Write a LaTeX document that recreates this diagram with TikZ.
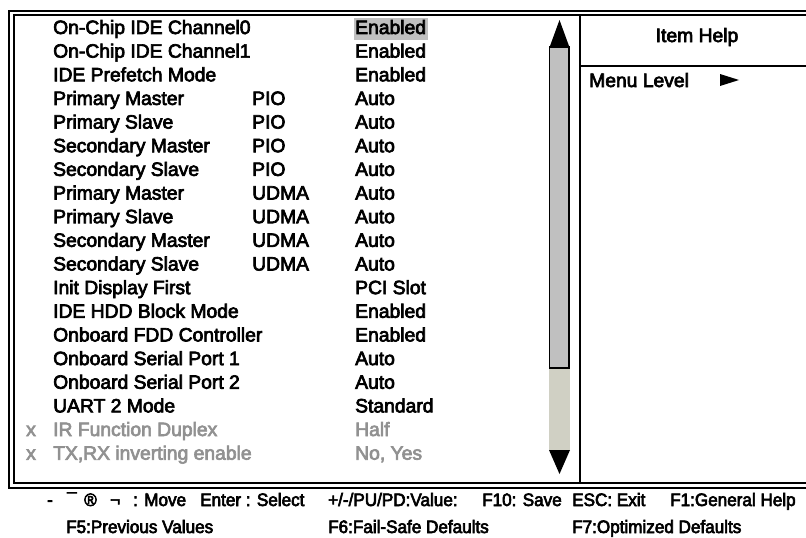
\documentclass[tikz,border=0pt]{standalone}
\usepackage{fontspec}
\setmainfont{Liberation Sans}[BoldFont={Liberation Sans},BoldFeatures={FakeBold=3.5}]
\newfontfamily\keyfont{Liberation Sans}[BoldFont={Liberation Sans},BoldFeatures={FakeBold=3.5,FakeStretch=0.95}]
\usetikzlibrary{positioning}
\definecolor{hilite}{RGB}{192,192,192}
\definecolor{thumbgray}{RGB}{192,192,192}
\definecolor{trackgray}{RGB}{208,208,196}
\definecolor{dimtext}{RGB}{145,145,145}
\tikzstyle{itemtxt}=[anchor=base west, inner sep=0pt, font=\fontsize{19.3}{24}\selectfont\bfseries]
\tikzstyle{greytxt}=[itemtxt, text=dimtext]
\tikzstyle{keytxt}=[anchor=base west, inner sep=0pt, font=\keyfont\fontsize{18}{22}\selectfont\bfseries]
\tikzstyle{frameline}=[line width=2pt]

\begin{document}
\begin{tikzpicture}[x=1pt,y=-1pt]
\useasboundingbox (0,0) rectangle (806,538);
%double frame, open to the right
\draw[frameline] (812,10.5) -- (8.5,10.5) -- (8.5,487.5) -- (812,487.5);
\draw[frameline] (812,14.5) -- (14,14.5) -- (14,483) -- (812,483);
\draw[frameline] (580,14.5) -- (580,483);
\draw[frameline] (580,66) -- (812,66);
%selected value
\fill[hilite] (354,18) rectangle (428,40);
%setup items
\foreach \nm/\md/\val [count=\i from 0] in {On-Chip IDE Channel0//Enabled, On-Chip IDE Channel1//Enabled, IDE Prefetch Mode//Enabled, Primary Master/PIO/Auto, Primary Slave/PIO/Auto, Secondary Master/PIO/Auto, Secondary Slave/PIO/Auto, Primary Master/UDMA/Auto, Primary Slave/UDMA/Auto, Secondary Master/UDMA/Auto, Secondary Slave/UDMA/Auto, Init Display First//PCI Slot, IDE HDD Block Mode//Enabled, Onboard FDD Controller//Enabled, Onboard Serial Port 1//Auto, Onboard Serial Port 2//Auto, UART 2 Mode//Standard}{
	\pgfmathsetmacro\yy{34+23.65*\i}
	\node[itemtxt] (n\i) at (53,\yy) {\nm};
	\node[itemtxt] (m\i) at (252,\yy) {\md};
	\node[itemtxt] (v\i) at (355,\yy) {\val};
}
%items that can not be changed
\node[greytxt] (x17) at (26,436) {x};
\node[greytxt] (n17) at (53,436) {IR Function Duplex};
\node[greytxt] (v17) at (355,436) {Half};
\node[greytxt] (x18) at (26,459.7) {x};
\node[greytxt] (n18) at (53,459.7) {TX,RX inverting enable};
\node[greytxt] (v18) at (355,459.7) {No, Yes};
%scroll bar
\fill[trackgray] (549,368) rectangle (570,450);
\draw[fill=thumbgray, line width=1.5pt] (549.5,47) rectangle (569,368);
\fill (550,46) -- (569,46) -- (559.5,20) -- cycle;
\fill (549,450) -- (570,450) -- (559.5,474) -- cycle;
%help panel
\node[itemtxt, anchor=base] (help) at (697,42) {Item Help};
\node[itemtxt] (menu) at (589,87) {Menu Level};
\fill (720,74) -- (739,80) -- (720,86) -- cycle;
%key line
\node[keytxt] (k1) at (47,506) {-};
\node[keytxt] (k2) at (67,506) {¯};
\node[keytxt] (k3) at (84,506) {®};
\node[keytxt] (k4) at (110,506) {¬};
\node[keytxt] (k5) at (133,506) {: Move};
\node[keytxt] (k6) at (200,506) {Enter : Select};
\node[keytxt] (k7) at (328,506) {+/-/PU/PD:Value:};
\node[keytxt] (k8) at (482,506) {F10: Save};
\node[keytxt] (k9) at (572,506) {ESC: Exit};
\node[keytxt] (k10) at (670,506) {F1:General Help};
\node[keytxt] (k11) at (66,533) {F5:Previous Values};
\node[keytxt] (k12) at (328,533) {F6:Fail-Safe Defaults};
\node[keytxt] (k13) at (572,533) {F7:Optimized Defaults};
\end{tikzpicture}
\end{document}
